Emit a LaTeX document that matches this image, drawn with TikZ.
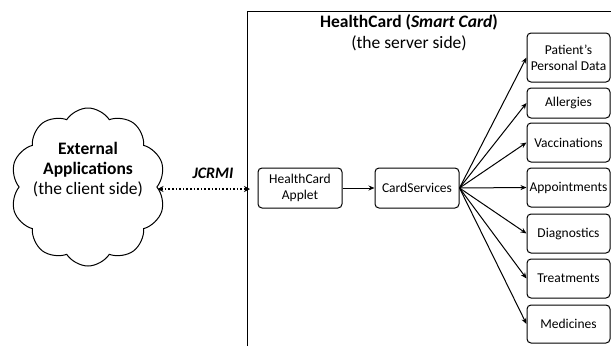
\documentclass[tikz,border=0pt]{standalone}
\usepackage{fontspec}
\setmainfont{Carlito}
\usetikzlibrary{shapes.symbols, arrows.meta}

\begin{document}
\begin{tikzpicture}[x=1pt, y=-1pt,
	box/.style={draw, line width=1pt, rounded corners=4pt, align=center, inner sep=0pt,
		minimum width=83pt, minimum height=39pt, font=\fontsize{13.5}{16}\selectfont},
	link/.style={line width=1pt, -{Stealth[length=6pt, width=5pt]}}]
	\useasboundingbox (0,0) rectangle (611,346);

	% the card (server side)
	\draw [line width=1pt] (247,346) |- (611,11);
	\node (title) at (409,22) {\fontsize{17.5}{19}\selectfont\bfseries HealthCard (\textit{Smart Card})};
	\node (server) at (409,43) {\fontsize{17.5}{19}\selectfont (the server side)};

	\node [box, minimum width=84pt, minimum height=40pt] (applet) at (300,188) {HealthCard\\Applet};
	\node [box, minimum width=84pt, minimum height=40pt] (services) at (417,188) {CardServices};

	\node [box, minimum height=49pt] (personal) at (568.5,57.5) {Patient’s\\Personal Data};
	\node [box, minimum height=30pt] (allergies) at (568.5,103) {Allergies};
	\node [box] (vaccinations) at (568.5,142.5) {Vaccinations};
	\node [box] (appointments) at (568.5,187.5) {Appointments};
	\node [box] (diagnostics) at (568.5,233.5) {Diagnostics};
	\node [box] (treatments) at (568.5,278.5) {Treatments};
	\node [box, minimum height=38pt] (medicines) at (568.5,324) {Medicines};

	\draw [link] (applet) -- (services);
	\foreach \n in {personal, allergies, vaccinations, appointments, diagnostics, treatments, medicines}
		\draw [link] (services.east) -- (\n.west);

	% the client side
	\node [cloud, cloud ignores aspect, draw, line width=1pt, cloud puffs=10, cloud puff arc=115,
		minimum width=155pt, minimum height=158pt, inner sep=0pt] (client) at (88,187) {};
	\node [align=center, font=\fontsize{17.5}{20}\selectfont] (clienttext) at (88,170)
		{\textbf{External}\\\textbf{Applications}\\(the client side)};

	\coordinate (entry) at (250,189);
	\node (jcrmi) at (213,173) {\fontsize{16}{18}\selectfont\bfseries\itshape JCRMI};
	\draw [line width=1.6pt, dotted, {Stealth[length=6pt, width=6pt]}-{Stealth[length=6pt, width=6pt]}]
		(client.east |- entry) -- (entry);
\end{tikzpicture}
\end{document}
